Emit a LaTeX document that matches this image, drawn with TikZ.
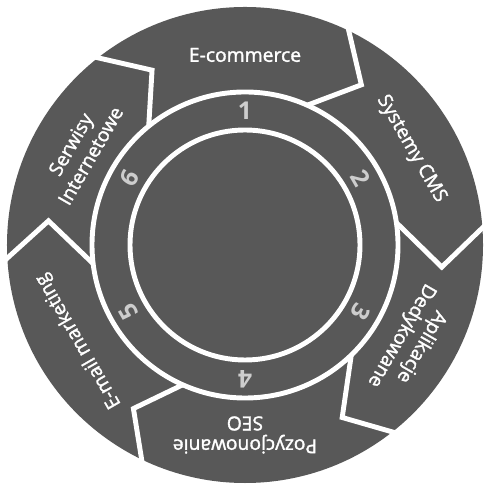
\documentclass[tikz,border=0pt]{standalone}
\usepackage{fontspec}
\setmainfont{Open Sans}
\newfontfamily\wheelfont[FakeBold=1.6]{Open Sans}
\usepackage{tikz}
\usetikzlibrary{arrows}
\definecolor{wheelgray}{RGB}{88,88,88}
\definecolor{numgray}{RGB}{205,205,205}
\tikzset{
    seglabel/.style={text=white, align=center, font=\wheelfont\fontsize{11}{13}\selectfont},
    ringnum/.style={text=numgray, font=\fontsize{14}{14}\selectfont\bfseries},
    wheelline/.style={white, line width=2.8pt, line join=miter},
}

\begin{document}
\begin{tikzpicture}
    \useasboundingbox (-4.9,-4.9) rectangle (4.9,4.9);
    \fill[wheelgray] (0,0) circle (4.76);
    \draw[wheelline] (0,0) circle (3.06);
    \draw[wheelline] (0,0) circle (2.3);
    % arrow borders
    \draw[wheelline] (129:4.85) -- (118:3.96) -- (129:3.06);
    \draw[wheelline] (65:4.85) -- (54:3.96) -- (66:3.06);
    \draw[wheelline] (5:4.85) -- (-6.4:3.96) -- (8.4:3.06);
    \draw[wheelline] (309:4.85) -- (299.4:3.96) -- (314:3.06);
    \draw[wheelline] (245:4.85) -- (235.7:3.96) -- (246:3.06);
    \draw[wheelline] (184:4.85) -- (173:3.96) -- (187:3.06);
    % segment labels
    \node[seglabel] (ecommerce) at (90:3.8) {E-commerce};
    \node[seglabel, rotate=-60] (cms) at (30:3.84) {Systemy CMS};
    \node[seglabel, rotate=-120] (aplikacje) at (-30:3.84) {Aplikacje\\Dedykowane};
    \node[seglabel, rotate=180] (seo) at (-90:3.8) {Pozycjonowanie\\SEO};
    \node[seglabel, rotate=120] (email) at (-150:3.84) {E-mail marketing};
    \node[seglabel, rotate=60] (serwisy) at (150:3.8) {Serwisy\\Internetowe};
    % ring numbers
    \node[ringnum] (n1) at (90:2.68) {1};
    \node[ringnum, rotate=-60] (n2) at (30:2.68) {2};
    \node[ringnum, rotate=-120] (n3) at (-30:2.68) {3};
    \node[ringnum, rotate=180] (n4) at (-90:2.68) {4};
    \node[ringnum, rotate=120] (n5) at (-150:2.68) {5};
    \node[ringnum, rotate=60] (n6) at (150:2.68) {6};
\end{tikzpicture}
\end{document}
